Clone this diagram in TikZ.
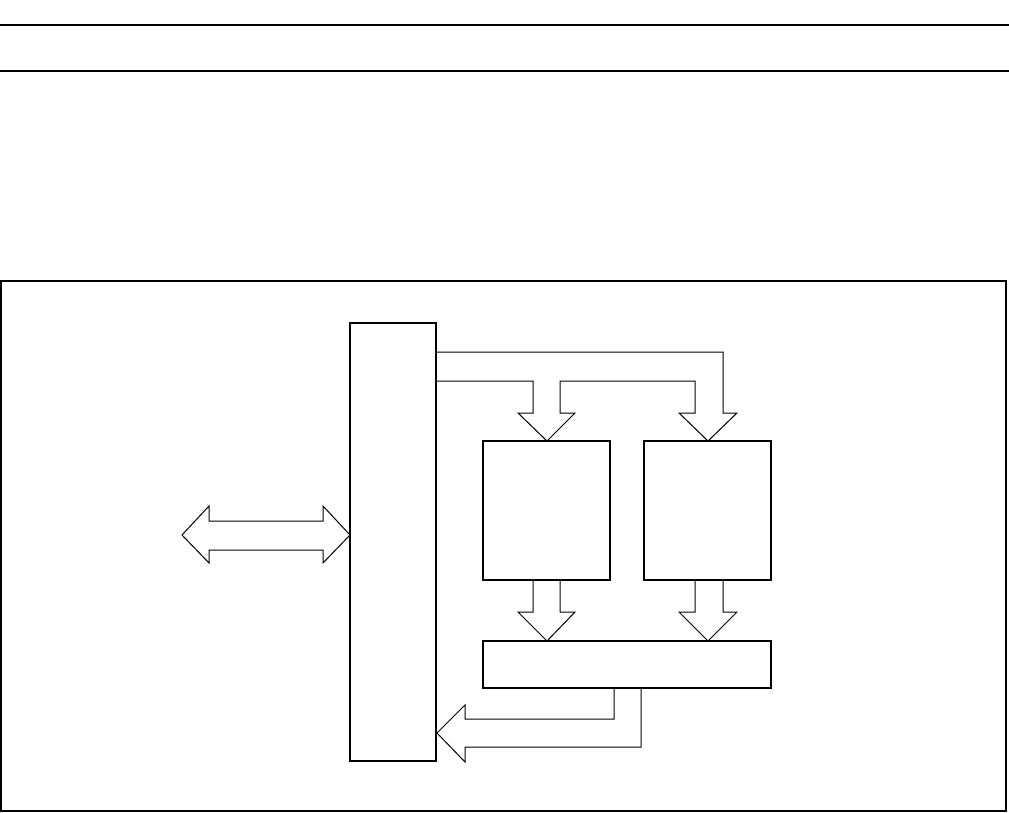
\documentclass[tikz,border=0pt]{standalone}
\begin{document}
\begin{tikzpicture}[x=1pt,y=-1pt,
  box/.style={draw=black,line width=2pt,fill=white,inner sep=0pt,outer sep=0pt},
  blockarrow/.style={draw=black,line width=1pt,line join=miter},
  rule/.style={line width=2.2pt}]
\useasboundingbox (0,0) rectangle (1009,813);
% header rules
\draw[rule] (0,25) -- (1009,25);
\draw[rule] (0,71) -- (1009,71);
% frame
\node[box,minimum width=1005pt,minimum height=530pt] (frame) at (503.5,546) {};
% boxes
\node[box,minimum width=86pt,minimum height=438pt] (tall) at (393,542) {};
\node[box,minimum width=127pt,minimum height=139pt] (A) at (546.5,510.5) {};
\node[box,minimum width=127pt,minimum height=139pt] (B) at (707.5,510.5) {};
\node[box,minimum width=288pt,minimum height=47pt] (wide) at (627,664.5) {};
% branching arrow from tall box to A and B
\draw[blockarrow] (436,352) -- (723,352) -- (723,413) -- (737,413) -- (708,441)
  -- (679,413) -- (695,413) -- (695,381) -- (560,381) -- (560,413) -- (575,413)
  -- (547,441) -- (518,413) -- (533,413) -- (533,381) -- (436,381);
% arrows from A and B to wide box
\draw[blockarrow] (533,580) -- (533,612) -- (518,612) -- (547,641) -- (575,612) -- (560,612) -- (560,580);
\draw[blockarrow] (695,580) -- (695,612) -- (679,612) -- (708,641) -- (737,612) -- (723,612) -- (723,580);
% return arrow from wide box to tall box
\draw[blockarrow] (614,688) -- (614,719) -- (465,719) -- (465,705) -- (437,733)
  -- (465,762) -- (465,747) -- (641,747) -- (641,688);
% double arrow into tall box
\draw[blockarrow] (182,535) -- (209,506) -- (209,521) -- (323,521) -- (323,506)
  -- (350,535) -- (323,563) -- (323,550) -- (209,550) -- (209,563) -- cycle;
\end{tikzpicture}
\end{document}
